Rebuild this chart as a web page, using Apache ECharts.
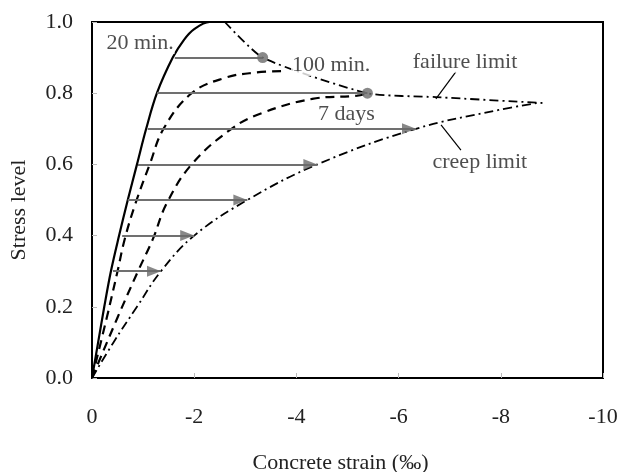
<!DOCTYPE html>
<html>
<head>
<meta charset="utf-8">
<script src="https://cdn.jsdelivr.net/npm/echarts@6/dist/echarts.min.js"></script>
<style>
html,body{margin:0;padding:0;background:#fff;}
#main{width:622px;height:472px;}
</style>
</head>
<body>
<div id="main"></div>
<script>
// ---- data (strain in ‰, stress level) ----
var curve20min = [[0,0],[-0.12,0.1],[-0.24,0.2],[-0.37,0.3],[-0.53,0.4],[-0.70,0.5],[-0.88,0.6],[-1.06,0.7],[-1.27,0.8],[-1.58,0.9],[-1.8,0.95],[-2.0,0.98],[-2.3,1.0],[-2.6,1.0]];
var curve100min = [[0,0],[-0.29,0.17],[-0.5,0.3],[-0.64,0.39],[-0.85,0.49],[-1.13,0.6],[-1.40,0.70],[-1.95,0.80],[-2.6,0.843],[-3.2,0.858],[-3.75,0.862]];
var curve7days = [[0,0],[-0.5,0.17],[-0.9,0.3],[-1.19,0.39],[-1.46,0.49],[-1.95,0.6],[-2.73,0.70],[-3.32,0.744],[-4.31,0.784],[-5.19,0.793],[-5.39,0.8]];
var creepLimit = [[0,0],[-0.42,0.1],[-0.88,0.2],[-1.35,0.3],[-2.0,0.4],[-3.04,0.5],[-4.41,0.6],[-6.34,0.7],[-7.96,0.753],[-8.7,0.772]];
var failureLimit = [[-2.6,1.0],[-3.34,0.9],[-5.39,0.8],[-6.73,0.789],[-8.88,0.772]];
var failureDots = [[-3.34,0.9],[-5.39,0.8]];

var arrowY     = [0.9, 0.8, 0.7, 0.6, 0.5, 0.4, 0.3];
var arrowStart = [-1.62, -1.27, -1.09, -0.90, -0.70, -0.59, -0.41];
var arrowEnd   = [-3.34, -5.39, -6.34, -4.41, -3.04, -2.0, -1.35];
var arrowHasHead = [false, false, true, true, true, true, true];

var annoText = ['20 min.', '100 min.', '7 days', 'failure limit', 'creep limit'];
var annoPos  = [[-0.94,0.941],[-4.68,0.879],[-4.98,0.742],[-7.30,0.888],[-7.59,0.607]];
var leaderFailure = [[-6.73,0.784],[-7.12,0.86]];
var leaderCreep   = [[-6.83,0.711],[-7.22,0.64]];

var xTicks = {min:-10, max:0, interval:2};
var yTicks = {min:0, max:1, interval:0.2};
var xName = 'Concrete strain (‰)';
var yName = 'Stress level';

var FONT = "'Liberation Serif','Times New Roman',serif";
var chart = echarts.init(document.getElementById('main'));

var arrowLines = arrowY.map(function(y,i){
  return [{coord:[arrowStart[i], y]}, {coord:[arrowEnd[i], y]}];
});
var arrowTips = [];
arrowY.forEach(function(y,i){ if(arrowHasHead[i]) arrowTips.push([arrowEnd[i], y]); });

var dashDot = [9,4,2,4];

var option = {
  animation:false,
  backgroundColor:'#fff',
  grid:{left:92, top:22, right:19, bottom:94, containLabel:false, outerBoundsMode:'none',
        show:true, borderColor:'#000', borderWidth:2, backgroundColor:'transparent'},
  xAxis:{
    type:'value', min:xTicks.min, max:xTicks.max, interval:xTicks.interval, inverse:true,
    name:xName, nameLocation:'middle', nameGap:74,
    nameTextStyle:{fontFamily:FONT, fontSize:22, color:'#222', padding:[0,14,0,0]},
    axisLine:{show:true, lineStyle:{color:'#000', width:2}},
    axisTick:{show:true, inside:true, length:5, lineStyle:{color:'#bbb'}},
    axisLabel:{fontFamily:FONT, fontSize:22, color:'#222', margin:28},
    splitLine:{show:false}
  },
  yAxis:{
    type:'value', min:yTicks.min, max:yTicks.max, interval:yTicks.interval,
    name:yName, nameLocation:'middle', nameGap:62,
    nameTextStyle:{fontFamily:FONT, fontSize:22, color:'#222', padding:[0,20,0,0]},
    axisLine:{show:true, lineStyle:{color:'#000', width:2}},
    axisTick:{show:true, inside:true, length:5, lineStyle:{color:'#bbb'}},
    axisLabel:{fontFamily:FONT, fontSize:22, color:'#222', margin:19, formatter:function(v){return v.toFixed(1);}},
    splitLine:{show:false}
  },
  series:[
    {type:'line', data:curve20min, smooth:0.35, symbol:'none', lineStyle:{color:'#000', width:2.2}, z:3},
    {type:'line', data:curve100min, smooth:0.4, symbol:'none', lineStyle:{color:'#000', width:2.2, type:[9,6]}, z:3},
    {type:'line', data:curve7days, smooth:0.4, symbol:'none', lineStyle:{color:'#000', width:2.2, type:[9,6]}, z:3},
    {type:'line', data:creepLimit, smooth:0.4, symbol:'none', lineStyle:{color:'#000', width:1.8, type:dashDot}, z:3},
    {type:'line', data:failureLimit, smooth:0.2, symbol:'none', lineStyle:{color:'#000', width:1.8, type:dashDot}, z:3},
    {type:'line', data:leaderFailure, symbol:'none', lineStyle:{color:'#000', width:1.2}, z:3},
    {type:'line', data:leaderCreep, symbol:'none', lineStyle:{color:'#000', width:1.2}, z:3},
    {type:'line', data:[], markLine:{silent:true, animation:false, symbol:['none','none'], label:{show:false},
      lineStyle:{color:'#707070', width:2, type:'solid'}, data:arrowLines}, z:4},
    {type:'scatter', data:arrowTips, symbol:'triangle', symbolSize:[11,14], symbolRotate:-90, symbolOffset:[-7,0],
      itemStyle:{color:'#6a6a6a'}, z:5, silent:true},
    {type:'scatter', data:failureDots, symbol:'circle', symbolSize:11, itemStyle:{color:'#6a6a6a'}, z:5},
    {type:'scatter', data:annoPos.map(function(p,i){return {value:p, name:annoText[i]};}),
      symbolSize:0, z:6, silent:true,
      label:{show:true, position:'inside', formatter:function(p){return p.name;}, fontFamily:FONT, fontSize:22, color:'#222', backgroundColor:'#fff', padding:[0,1]}
    }
  ]
};
chart.setOption(option);
</script>
</body>
</html>
